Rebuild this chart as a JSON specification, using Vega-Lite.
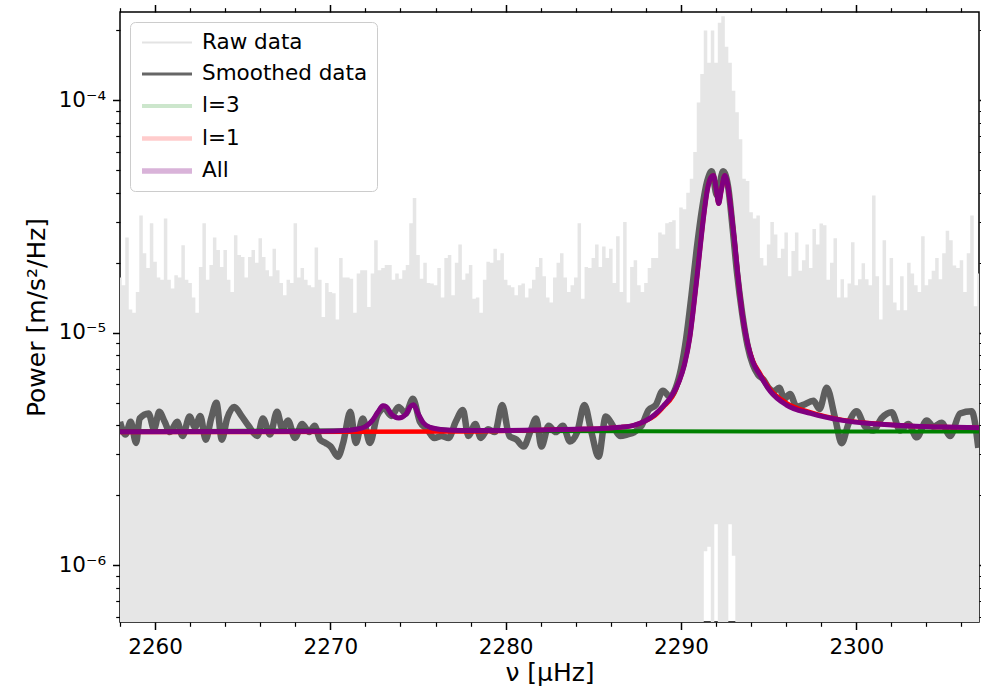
{
"$schema":"https://vega.github.io/schema/vega-lite/v6.json",
"width":859,"height":610,
"autosize":"none",
"padding":{"left":120,"top":12,"right":2,"bottom":69},
"background":"white",
"config":{
"view":{"stroke":"black","strokeWidth":1.5},
"font":"DejaVu Sans",
"axis":{"grid":false,"domain":false,"tickColor":"black","tickWidth":1.5,"labelColor":"black","labelFont":"DejaVu Sans","labelFontSize":21.5,"labelPadding":7,"titleFont":"DejaVu Sans","titleFontSize":25,"titleFontWeight":"normal","titleColor":"black"}
},
"datasets":{
"raw":[
{"f":2258.0,"hi":1.73e-5,"lo":1e-8},{"f":2258.2,"hi":1.6e-5,"lo":1e-8},{"f":2258.4,"hi":2.57e-5,"lo":1e-8},{"f":2258.6,"hi":1.26e-5,"lo":1e-8},{"f":2258.8,"hi":1.22e-5,"lo":1e-8},
{"f":2259.0,"hi":1.5e-5,"lo":1e-8},{"f":2259.2,"hi":3.2e-5,"lo":1e-8},{"f":2259.4,"hi":2.2e-5,"lo":1e-8},{"f":2259.6,"hi":1.9e-5,"lo":1e-8},{"f":2259.8,"hi":2.96e-5,"lo":1e-8},
{"f":2260.0,"hi":2.02e-5,"lo":1e-8},{"f":2260.2,"hi":1.73e-5,"lo":1e-8},{"f":2260.4,"hi":1.69e-5,"lo":1e-8},{"f":2260.6,"hi":3.1e-5,"lo":1e-8},{"f":2260.8,"hi":1.69e-5,"lo":1e-8},
{"f":2261.0,"hi":1.55e-5,"lo":1e-8},{"f":2261.2,"hi":1.77e-5,"lo":1e-8},{"f":2261.4,"hi":1.73e-5,"lo":1e-8},{"f":2261.6,"hi":2.38e-5,"lo":1e-8},{"f":2261.8,"hi":1.69e-5,"lo":1e-8},
{"f":2262.0,"hi":1.64e-5,"lo":1e-8},{"f":2262.2,"hi":1.42e-5,"lo":1e-8},{"f":2262.4,"hi":1.22e-5,"lo":1e-8},{"f":2262.6,"hi":1.92e-5,"lo":1e-8},{"f":2262.8,"hi":2.96e-5,"lo":1e-8},
{"f":2263.0,"hi":1.69e-5,"lo":1e-8},{"f":2263.2,"hi":1.96e-5,"lo":1e-8},{"f":2263.4,"hi":2.57e-5,"lo":1e-8},{"f":2263.6,"hi":2.27e-5,"lo":1e-8},{"f":2263.8,"hi":1.92e-5,"lo":1e-8},
{"f":2264.0,"hi":2.27e-5,"lo":1e-8},{"f":2264.2,"hi":1.69e-5,"lo":1e-8},{"f":2264.4,"hi":1.5e-5,"lo":1e-8},{"f":2264.6,"hi":2.63e-5,"lo":1e-8},{"f":2264.8,"hi":2.16e-5,"lo":1e-8},
{"f":2265.0,"hi":2.12e-5,"lo":1e-8},{"f":2265.2,"hi":1.73e-5,"lo":1e-8},{"f":2265.4,"hi":2.12e-5,"lo":1e-8},{"f":2265.6,"hi":2.27e-5,"lo":1e-8},{"f":2265.8,"hi":2.0e-5,"lo":1e-8},
{"f":2266.0,"hi":2.55e-5,"lo":1e-8},{"f":2266.2,"hi":2.12e-5,"lo":1e-8},{"f":2266.4,"hi":1.86e-5,"lo":1e-8},{"f":2266.6,"hi":1.75e-5,"lo":1e-8},{"f":2266.8,"hi":2.3e-5,"lo":1e-8},
{"f":2267.0,"hi":1.86e-5,"lo":1e-8},{"f":2267.2,"hi":1.64e-5,"lo":1e-8},{"f":2267.4,"hi":1.45e-5,"lo":1e-8},{"f":2267.6,"hi":1.69e-5,"lo":1e-8},{"f":2267.8,"hi":1.64e-5,"lo":1e-8},
{"f":2268.0,"hi":2.96e-5,"lo":1e-8},{"f":2268.2,"hi":1.73e-5,"lo":1e-8},{"f":2268.4,"hi":1.9e-5,"lo":1e-8},{"f":2268.6,"hi":1.69e-5,"lo":1e-8},{"f":2268.8,"hi":1.6e-5,"lo":1e-8},
{"f":2269.0,"hi":1.57e-5,"lo":1e-8},{"f":2269.2,"hi":2.33e-5,"lo":1e-8},{"f":2269.4,"hi":1.69e-5,"lo":1e-8},{"f":2269.6,"hi":1.17e-5,"lo":1e-8},{"f":2269.8,"hi":1.64e-5,"lo":1e-8},
{"f":2270.0,"hi":1.5e-5,"lo":1e-8},{"f":2270.2,"hi":1.48e-5,"lo":1e-8},{"f":2270.4,"hi":1.14e-5,"lo":1e-8},{"f":2270.6,"hi":2.1e-5,"lo":1e-8},{"f":2270.8,"hi":1.73e-5,"lo":1e-8},
{"f":2271.0,"hi":1.73e-5,"lo":1e-8},{"f":2271.2,"hi":1.71e-5,"lo":1e-8},{"f":2271.4,"hi":1.22e-5,"lo":1e-8},{"f":2271.6,"hi":1.8e-5,"lo":1e-8},{"f":2271.8,"hi":1.86e-5,"lo":1e-8},
{"f":2272.0,"hi":1.86e-5,"lo":1e-8},{"f":2272.2,"hi":1.29e-5,"lo":1e-8},{"f":2272.4,"hi":1.8e-5,"lo":1e-8},{"f":2272.6,"hi":2.5e-5,"lo":1e-8},{"f":2272.8,"hi":1.86e-5,"lo":1e-8},
{"f":2273.0,"hi":1.9e-5,"lo":1e-8},{"f":2273.2,"hi":1.96e-5,"lo":1e-8},{"f":2273.4,"hi":1.96e-5,"lo":1e-8},{"f":2273.6,"hi":1.69e-5,"lo":1e-8},{"f":2273.8,"hi":1.8e-5,"lo":1e-8},
{"f":2274.0,"hi":1.71e-5,"lo":1e-8},{"f":2274.2,"hi":1.86e-5,"lo":1e-8},{"f":2274.4,"hi":1.96e-5,"lo":1e-8},{"f":2274.6,"hi":2.96e-5,"lo":1e-8},{"f":2274.8,"hi":3.8e-5,"lo":1e-8},
{"f":2275.0,"hi":2.16e-5,"lo":1e-8},{"f":2275.2,"hi":1.71e-5,"lo":1e-8},{"f":2275.4,"hi":2.0e-5,"lo":1e-8},{"f":2275.6,"hi":1.64e-5,"lo":1e-8},{"f":2275.8,"hi":1.63e-5,"lo":1e-8},
{"f":2276.0,"hi":1.6e-5,"lo":1e-8},{"f":2276.2,"hi":1.9e-5,"lo":1e-8},{"f":2276.4,"hi":1.42e-5,"lo":1e-8},{"f":2276.6,"hi":2.1e-5,"lo":1e-8},{"f":2276.8,"hi":2.16e-5,"lo":1e-8},
{"f":2277.0,"hi":1.45e-5,"lo":1e-8},{"f":2277.2,"hi":2.0e-5,"lo":1e-8},{"f":2277.4,"hi":2.4e-5,"lo":1e-8},{"f":2277.6,"hi":1.69e-5,"lo":1e-8},{"f":2277.8,"hi":1.8e-5,"lo":1e-8},
{"f":2278.0,"hi":1.96e-5,"lo":1e-8},{"f":2278.2,"hi":1.4e-5,"lo":1e-8},{"f":2278.4,"hi":1.42e-5,"lo":1e-8},{"f":2278.6,"hi":1.22e-5,"lo":1e-8},{"f":2278.8,"hi":1.69e-5,"lo":1e-8},
{"f":2279.0,"hi":2.02e-5,"lo":1e-8},{"f":2279.2,"hi":2.0e-5,"lo":1e-8},{"f":2279.4,"hi":2.3e-5,"lo":1e-8},{"f":2279.6,"hi":2.05e-5,"lo":1e-8},{"f":2279.8,"hi":2.2e-5,"lo":1e-8},
{"f":2280.0,"hi":1.69e-5,"lo":1e-8},{"f":2280.2,"hi":1.6e-5,"lo":1e-8},{"f":2280.4,"hi":1.57e-5,"lo":1e-8},{"f":2280.6,"hi":1.45e-5,"lo":1e-8},{"f":2280.8,"hi":1.6e-5,"lo":1e-8},
{"f":2281.0,"hi":1.63e-5,"lo":1e-8},{"f":2281.2,"hi":1.42e-5,"lo":1e-8},{"f":2281.4,"hi":1.55e-5,"lo":1e-8},{"f":2281.6,"hi":1.69e-5,"lo":1e-8},{"f":2281.8,"hi":1.92e-5,"lo":1e-8},
{"f":2282.0,"hi":2.1e-5,"lo":1e-8},{"f":2282.2,"hi":1.75e-5,"lo":1e-8},{"f":2282.4,"hi":1.42e-5,"lo":1e-8},{"f":2282.6,"hi":1.35e-5,"lo":1e-8},{"f":2282.8,"hi":1.73e-5,"lo":1e-8},
{"f":2283.0,"hi":2.0e-5,"lo":1e-8},{"f":2283.2,"hi":2.2e-5,"lo":1e-8},{"f":2283.4,"hi":1.73e-5,"lo":1e-8},{"f":2283.6,"hi":1.5e-5,"lo":1e-8},{"f":2283.8,"hi":1.6e-5,"lo":1e-8},
{"f":2284.0,"hi":1.73e-5,"lo":1e-8},{"f":2284.2,"hi":2.96e-5,"lo":1e-8},{"f":2284.4,"hi":1.4e-5,"lo":1e-8},{"f":2284.6,"hi":1.92e-5,"lo":1e-8},{"f":2284.8,"hi":1.9e-5,"lo":1e-8},
{"f":2285.0,"hi":2.1e-5,"lo":1e-8},{"f":2285.2,"hi":2.4e-5,"lo":1e-8},{"f":2285.4,"hi":1.92e-5,"lo":1e-8},{"f":2285.6,"hi":2.35e-5,"lo":1e-8},{"f":2285.8,"hi":2.1e-5,"lo":1e-8},
{"f":2286.0,"hi":2.3e-5,"lo":1e-8},{"f":2286.2,"hi":1.64e-5,"lo":1e-8},{"f":2286.4,"hi":2.6e-5,"lo":1e-8},{"f":2286.6,"hi":1.5e-5,"lo":1e-8},{"f":2286.8,"hi":3.0e-5,"lo":1e-8},
{"f":2287.0,"hi":1.35e-5,"lo":1e-8},{"f":2287.2,"hi":1.92e-5,"lo":1e-8},{"f":2287.4,"hi":2.05e-5,"lo":1e-8},{"f":2287.6,"hi":1.6e-5,"lo":1e-8},{"f":2287.8,"hi":1.5e-5,"lo":1e-8},
{"f":2288.0,"hi":1.64e-5,"lo":1e-8},{"f":2288.2,"hi":1.9e-5,"lo":1e-8},{"f":2288.4,"hi":2.1e-5,"lo":1e-8},{"f":2288.6,"hi":2.1e-5,"lo":1e-8},{"f":2288.8,"hi":2.7e-5,"lo":1e-8},
{"f":2289.0,"hi":2.65e-5,"lo":1e-8},{"f":2289.2,"hi":2.96e-5,"lo":1e-8},{"f":2289.4,"hi":3.0e-5,"lo":1e-8},{"f":2289.6,"hi":3.05e-5,"lo":1e-8},{"f":2289.8,"hi":2.3e-5,"lo":1e-8},
{"f":2290.0,"hi":3.46e-5,"lo":1e-8},{"f":2290.2,"hi":3.4e-5,"lo":1e-8},{"f":2290.4,"hi":4.0e-5,"lo":1e-8},{"f":2290.6,"hi":4.6e-5,"lo":1e-8},{"f":2290.8,"hi":6.0e-5,"lo":1e-8},
{"f":2291.0,"hi":9.8e-5,"lo":1e-8},{"f":2291.2,"hi":1.3e-4,"lo":1e-8},{"f":2291.4,"hi":2.0e-4,"lo":1.15e-6},{"f":2291.6,"hi":1.45e-4,"lo":1.2e-6},{"f":2291.8,"hi":2.0e-4,"lo":1e-8},
{"f":2292.0,"hi":1.45e-4,"lo":1.5e-6},{"f":2292.2,"hi":2.16e-4,"lo":1e-8},{"f":2292.4,"hi":2.3e-4,"lo":1e-8},{"f":2292.6,"hi":1.7e-4,"lo":1e-8},{"f":2292.8,"hi":1.45e-4,"lo":1.5e-6},
{"f":2293.0,"hi":1.1e-4,"lo":1.1e-6},{"f":2293.2,"hi":8.9e-5,"lo":1e-8},{"f":2293.4,"hi":6.8e-5,"lo":1e-8},{"f":2293.6,"hi":4.6e-5,"lo":1e-8},{"f":2293.8,"hi":4.5e-5,"lo":1e-8},
{"f":2294.0,"hi":3.3e-5,"lo":1e-8},{"f":2294.2,"hi":3.1e-5,"lo":1e-8},{"f":2294.4,"hi":3.2e-5,"lo":1e-8},{"f":2294.6,"hi":2.1e-5,"lo":1e-8},{"f":2294.8,"hi":1.95e-5,"lo":1e-8},
{"f":2295.0,"hi":2.4e-5,"lo":1e-8},{"f":2295.2,"hi":3.0e-5,"lo":1e-8},{"f":2295.4,"hi":2.65e-5,"lo":1e-8},{"f":2295.6,"hi":2.1e-5,"lo":1e-8},{"f":2295.8,"hi":2.3e-5,"lo":1e-8},
{"f":2296.0,"hi":2.7e-5,"lo":1e-8},{"f":2296.2,"hi":1.75e-5,"lo":1e-8},{"f":2296.4,"hi":2.25e-5,"lo":1e-8},{"f":2296.6,"hi":2.7e-5,"lo":1e-8},{"f":2296.8,"hi":1.85e-5,"lo":1e-8},
{"f":2297.0,"hi":2.05e-5,"lo":1e-8},{"f":2297.2,"hi":2.4e-5,"lo":1e-8},{"f":2297.4,"hi":1.9e-5,"lo":1e-8},{"f":2297.6,"hi":2.8e-5,"lo":1e-8},{"f":2297.8,"hi":2.4e-5,"lo":1e-8},
{"f":2298.0,"hi":2.95e-5,"lo":1e-8},{"f":2298.2,"hi":2.9e-5,"lo":1e-8},{"f":2298.4,"hi":1.69e-5,"lo":1e-8},{"f":2298.6,"hi":2.0e-5,"lo":1e-8},{"f":2298.8,"hi":2.55e-5,"lo":1e-8},
{"f":2299.0,"hi":1.42e-5,"lo":1e-8},{"f":2299.2,"hi":1.7e-5,"lo":1e-8},{"f":2299.4,"hi":1.42e-5,"lo":1e-8},{"f":2299.6,"hi":1.63e-5,"lo":1e-8},{"f":2299.8,"hi":2.45e-5,"lo":1e-8},
{"f":2300.0,"hi":1.6e-5,"lo":1e-8},{"f":2300.2,"hi":1.7e-5,"lo":1e-8},{"f":2300.4,"hi":1.99e-5,"lo":1e-8},{"f":2300.6,"hi":1.7e-5,"lo":1e-8},{"f":2300.8,"hi":1.6e-5,"lo":1e-8},
{"f":2301.0,"hi":3.9e-5,"lo":1e-8},{"f":2301.2,"hi":1.75e-5,"lo":1e-8},{"f":2301.4,"hi":1.14e-5,"lo":1e-8},{"f":2301.6,"hi":2.5e-5,"lo":1e-8},{"f":2301.8,"hi":1.6e-5,"lo":1e-8},
{"f":2302.0,"hi":2.1e-5,"lo":1e-8},{"f":2302.2,"hi":1.35e-5,"lo":1e-8},{"f":2302.4,"hi":1.25e-5,"lo":1e-8},{"f":2302.6,"hi":1.75e-5,"lo":1e-8},{"f":2302.8,"hi":1.25e-5,"lo":1e-8},
{"f":2303.0,"hi":2.0e-5,"lo":1e-8},{"f":2303.2,"hi":1.8e-5,"lo":1e-8},{"f":2303.4,"hi":1.6e-5,"lo":1e-8},{"f":2303.6,"hi":1.5e-5,"lo":1e-8},{"f":2303.8,"hi":2.6e-5,"lo":1e-8},
{"f":2304.0,"hi":1.6e-5,"lo":1e-8},{"f":2304.2,"hi":1.7e-5,"lo":1e-8},{"f":2304.4,"hi":1.85e-5,"lo":1e-8},{"f":2304.6,"hi":2.1e-5,"lo":1e-8},{"f":2304.8,"hi":1.7e-5,"lo":1e-8},
{"f":2305.0,"hi":2.2e-5,"lo":1e-8},{"f":2305.2,"hi":2.75e-5,"lo":1e-8},{"f":2305.4,"hi":2.5e-5,"lo":1e-8},{"f":2305.6,"hi":1.95e-5,"lo":1e-8},{"f":2305.8,"hi":1.9e-5,"lo":1e-8},
{"f":2306.0,"hi":2.05e-5,"lo":1e-8},{"f":2306.2,"hi":1.5e-5,"lo":1e-8},{"f":2306.4,"hi":2.2e-5,"lo":1e-8},{"f":2306.6,"hi":3.2e-5,"lo":1e-8},{"f":2306.8,"hi":1.3e-5,"lo":1e-8},
{"f":2307.0,"hi":1.8e-5,"lo":1e-8}
],
"smooth":[
{"f":2258.0,"p":4.14e-6},{"f":2258.31,"p":3.65e-6},{"f":2258.61,"p":4.14e-6},{"f":2258.92,"p":3.36e-6},{"f":2259.12,"p":4.28e-6},{"f":2259.63,"p":4.5e-6},{"f":2259.94,"p":3.85e-6},{"f":2260.24,"p":4.57e-6},{"f":2260.55,"p":4.14e-6},{"f":2260.85,"p":3.74e-6},
{"f":2261.26,"p":4.14e-6},{"f":2261.57,"p":3.6e-6},{"f":2261.97,"p":4.36e-6},{"f":2262.28,"p":3.92e-6},{"f":2262.58,"p":4.39e-6},{"f":2262.89,"p":3.47e-6},{"f":2263.2,"p":4.28e-6},{"f":2263.5,"p":5.0e-6},{"f":2263.81,"p":3.47e-6},{"f":2264.11,"p":4.28e-6},
{"f":2264.52,"p":4.8e-6},{"f":2264.93,"p":4.39e-6},{"f":2265.33,"p":3.98e-6},{"f":2265.84,"p":3.6e-6},{"f":2266.15,"p":4.28e-6},{"f":2266.56,"p":3.65e-6},{"f":2266.96,"p":4.57e-6},{"f":2267.27,"p":3.85e-6},{"f":2267.58,"p":4.2e-6},{"f":2267.98,"p":3.53e-6},
{"f":2268.39,"p":4.05e-6},{"f":2268.8,"p":3.74e-6},{"f":2269.1,"p":3.98e-6},{"f":2269.41,"p":3.47e-6},{"f":2269.72,"p":3.36e-6},{"f":2270.02,"p":3.24e-6},{"f":2270.43,"p":2.93e-6},{"f":2270.73,"p":3.36e-6},{"f":2271.14,"p":4.57e-6},{"f":2271.45,"p":3.36e-6},
{"f":2271.85,"p":4.28e-6},{"f":2272.26,"p":3.36e-6},{"f":2272.67,"p":4.39e-6},{"f":2273.08,"p":4.72e-6},{"f":2273.48,"p":4.39e-6},{"f":2273.89,"p":4.8e-6},{"f":2274.3,"p":4.5e-6},{"f":2274.71,"p":5.2e-6},{"f":2275.11,"p":4.14e-6},{"f":2275.52,"p":3.85e-6},
{"f":2275.93,"p":3.53e-6},{"f":2276.34,"p":3.6e-6},{"f":2276.74,"p":3.53e-6},{"f":2277.15,"p":4.14e-6},{"f":2277.56,"p":4.65e-6},{"f":2277.87,"p":3.6e-6},{"f":2278.27,"p":4.05e-6},{"f":2278.58,"p":3.53e-6},{"f":2278.99,"p":3.85e-6},{"f":2279.39,"p":3.74e-6},
{"f":2279.8,"p":4.89e-6},{"f":2280.21,"p":3.6e-6},{"f":2280.62,"p":3.47e-6},{"f":2281.02,"p":3.24e-6},{"f":2281.43,"p":3.8e-6},{"f":2281.74,"p":4.28e-6},{"f":2282.04,"p":3.24e-6},{"f":2282.45,"p":3.98e-6},{"f":2282.86,"p":3.74e-6},{"f":2283.26,"p":3.98e-6},
{"f":2283.67,"p":3.41e-6},{"f":2284.08,"p":3.74e-6},{"f":2284.49,"p":4.89e-6},{"f":2284.89,"p":3.74e-6},{"f":2285.3,"p":2.93e-6},{"f":2285.71,"p":4.36e-6},{"f":2286.12,"p":3.98e-6},{"f":2286.52,"p":3.6e-6},{"f":2286.93,"p":3.65e-6},{"f":2287.34,"p":3.74e-6},
{"f":2287.75,"p":3.98e-6},{"f":2288.15,"p":4.65e-6},{"f":2288.56,"p":4.89e-6},{"f":2288.97,"p":5.64e-6},{"f":2289.38,"p":5.3e-6},{"f":2289.7,"p":5.8e-6},{"f":2290.0,"p":7.0e-6},{"f":2290.3,"p":9.5e-6},{"f":2290.6,"p":1.45e-5},{"f":2290.9,"p":2.3e-5},
{"f":2291.2,"p":3.4e-5},{"f":2291.5,"p":4.5e-5},{"f":2291.75,"p":4.95e-5},{"f":2292.05,"p":3.9e-5},{"f":2292.4,"p":4.95e-5},{"f":2292.7,"p":4.2e-5},{"f":2292.95,"p":2.8e-5},{"f":2293.2,"p":1.8e-5},{"f":2293.5,"p":1.2e-5},{"f":2293.8,"p":8.8e-6},
{"f":2294.1,"p":7.3e-6},{"f":2294.4,"p":6.6e-6},{"f":2294.7,"p":6.3e-6},{"f":2295.0,"p":5.8e-6},{"f":2295.3,"p":5.6e-6},{"f":2295.6,"p":5.8e-6},{"f":2295.9,"p":5.2e-6},{"f":2296.22,"p":5.45e-6},{"f":2296.6,"p":4.8e-6},{"f":2296.98,"p":4.9e-6},
{"f":2297.55,"p":5.1e-6},{"f":2297.9,"p":4.7e-6},{"f":2298.31,"p":5.8e-6},{"f":2298.79,"p":4.3e-6},{"f":2299.17,"p":3.35e-6},{"f":2299.55,"p":4.05e-6},{"f":2300.02,"p":4.6e-6},{"f":2300.5,"p":3.95e-6},{"f":2300.97,"p":3.8e-6},{"f":2301.45,"p":4.3e-6},
{"f":2302.02,"p":4.55e-6},{"f":2302.5,"p":3.8e-6},{"f":2302.97,"p":4.05e-6},{"f":2303.45,"p":3.55e-6},{"f":2304.02,"p":4.2e-6},{"f":2304.4,"p":3.95e-6},{"f":2304.87,"p":4.1e-6},{"f":2305.35,"p":3.6e-6},{"f":2305.92,"p":4.5e-6},{"f":2306.58,"p":4.6e-6},
{"f":2306.96,"p":3.2e-6}
],
"models":[
{"s":"l=3","f":2258,"p":3.77e-6},{"s":"l=3","f":2270.5,"p":3.8e-6},{"s":"l=3","f":2271.5,"p":3.86e-6},{"s":"l=3","f":2272.0,"p":3.96e-6},{"s":"l=3","f":2272.4,"p":4.2e-6},{"s":"l=3","f":2272.7,"p":4.55e-6},{"s":"l=3","f":2273.0,"p":4.85e-6},{"s":"l=3","f":2273.2,"p":4.8e-6},{"s":"l=3","f":2273.5,"p":4.45e-6},{"s":"l=3","f":2273.9,"p":4.3e-6},{"s":"l=3","f":2274.3,"p":4.45e-6},{"s":"l=3","f":2274.55,"p":4.8e-6},{"s":"l=3","f":2274.75,"p":4.9e-6},{"s":"l=3","f":2275.0,"p":4.5e-6},{"s":"l=3","f":2275.3,"p":4.1e-6},{"s":"l=3","f":2275.7,"p":3.92e-6},{"s":"l=3","f":2276.3,"p":3.84e-6},{"s":"l=3","f":2277.5,"p":3.8e-6},{"s":"l=3","f":2280,"p":3.78e-6},{"s":"l=3","f":2307,"p":3.76e-6},
{"s":"l=1","f":2258,"p":3.74e-6},{"s":"l=1","f":2277,"p":3.76e-6},{"s":"l=1","f":2282,"p":3.82e-6},{"s":"l=1","f":2284,"p":3.85e-6},{"s":"l=1","f":2285.5,"p":3.88e-6},{"s":"l=1","f":2286.5,"p":3.92e-6},{"s":"l=1","f":2287.3,"p":4.0e-6},{"s":"l=1","f":2287.9,"p":4.15e-6},{"s":"l=1","f":2288.5,"p":4.4e-6},{"s":"l=1","f":2289.0,"p":4.8e-6},{"s":"l=1","f":2289.5,"p":5.3e-6},{"s":"l=1","f":2289.9,"p":6.2e-6},{"s":"l=1","f":2290.2,"p":7.3e-6},{"s":"l=1","f":2290.5,"p":9.5e-6},{"s":"l=1","f":2290.7,"p":1.25e-5},{"s":"l=1","f":2290.9,"p":1.7e-5},{"s":"l=1","f":2291.1,"p":2.35e-5},{"s":"l=1","f":2291.3,"p":3.2e-5},{"s":"l=1","f":2291.5,"p":4.1e-5},{"s":"l=1","f":2291.7,"p":4.65e-5},{"s":"l=1","f":2291.85,"p":4.75e-5},{"s":"l=1","f":2292.0,"p":4.2e-5},{"s":"l=1","f":2292.15,"p":3.6e-5},{"s":"l=1","f":2292.3,"p":4.1e-5},{"s":"l=1","f":2292.5,"p":4.75e-5},{"s":"l=1","f":2292.65,"p":4.4e-5},{"s":"l=1","f":2292.85,"p":3.4e-5},{"s":"l=1","f":2293.05,"p":2.5e-5},{"s":"l=1","f":2293.25,"p":1.75e-5},{"s":"l=1","f":2293.5,"p":1.2e-5},{"s":"l=1","f":2293.8,"p":9.0e-6},{"s":"l=1","f":2294.1,"p":7.6e-6},{"s":"l=1","f":2294.5,"p":6.7e-6},{"s":"l=1","f":2295.1,"p":5.7e-6},{"s":"l=1","f":2296.0,"p":5.0e-6},{"s":"l=1","f":2297.4,"p":4.55e-6},{"s":"l=1","f":2299.2,"p":4.22e-6},{"s":"l=1","f":2301.2,"p":4.06e-6},{"s":"l=1","f":2303.1,"p":3.97e-6},{"s":"l=1","f":2305.0,"p":3.93e-6},{"s":"l=1","f":2307.0,"p":3.9e-6},
{"s":"All","f":2258,"p":3.75e-6},{"s":"All","f":2265,"p":3.76e-6},{"s":"All","f":2269,"p":3.77e-6},{"s":"All","f":2270.5,"p":3.79e-6},{"s":"All","f":2271.5,"p":3.85e-6},{"s":"All","f":2272.0,"p":3.95e-6},{"s":"All","f":2272.4,"p":4.2e-6},{"s":"All","f":2272.7,"p":4.55e-6},{"s":"All","f":2273.0,"p":4.85e-6},{"s":"All","f":2273.2,"p":4.8e-6},{"s":"All","f":2273.5,"p":4.45e-6},{"s":"All","f":2273.9,"p":4.3e-6},{"s":"All","f":2274.3,"p":4.45e-6},{"s":"All","f":2274.55,"p":4.8e-6},{"s":"All","f":2274.75,"p":4.9e-6},{"s":"All","f":2275.0,"p":4.5e-6},{"s":"All","f":2275.3,"p":4.1e-6},{"s":"All","f":2275.7,"p":3.92e-6},{"s":"All","f":2276.3,"p":3.84e-6},{"s":"All","f":2277.5,"p":3.8e-6},{"s":"All","f":2280,"p":3.8e-6},{"s":"All","f":2282,"p":3.82e-6},{"s":"All","f":2284,"p":3.85e-6},{"s":"All","f":2285.5,"p":3.88e-6},{"s":"All","f":2286.5,"p":3.92e-6},{"s":"All","f":2287.3,"p":4.0e-6},{"s":"All","f":2287.9,"p":4.15e-6},{"s":"All","f":2288.5,"p":4.45e-6},{"s":"All","f":2289.0,"p":4.85e-6},{"s":"All","f":2289.5,"p":5.4e-6},{"s":"All","f":2289.9,"p":6.2e-6},{"s":"All","f":2290.2,"p":7.3e-6},{"s":"All","f":2290.5,"p":9.5e-6},{"s":"All","f":2290.7,"p":1.25e-5},{"s":"All","f":2290.9,"p":1.7e-5},{"s":"All","f":2291.1,"p":2.35e-5},{"s":"All","f":2291.3,"p":3.2e-5},{"s":"All","f":2291.5,"p":4.1e-5},{"s":"All","f":2291.7,"p":4.65e-5},{"s":"All","f":2291.85,"p":4.75e-5},{"s":"All","f":2292.0,"p":4.2e-5},{"s":"All","f":2292.15,"p":3.6e-5},{"s":"All","f":2292.3,"p":4.1e-5},{"s":"All","f":2292.5,"p":4.75e-5},{"s":"All","f":2292.65,"p":4.4e-5},{"s":"All","f":2292.85,"p":3.4e-5},{"s":"All","f":2293.05,"p":2.5e-5},{"s":"All","f":2293.25,"p":1.75e-5},{"s":"All","f":2293.5,"p":1.2e-5},{"s":"All","f":2293.8,"p":9.0e-6},{"s":"All","f":2294.1,"p":7.5e-6},{"s":"All","f":2294.5,"p":6.6e-6},{"s":"All","f":2295.1,"p":5.6e-6},{"s":"All","f":2296.0,"p":4.9e-6},{"s":"All","f":2297.4,"p":4.5e-6},{"s":"All","f":2299.2,"p":4.2e-6},{"s":"All","f":2301.2,"p":4.05e-6},{"s":"All","f":2303.1,"p":3.97e-6},{"s":"All","f":2305.0,"p":3.93e-6},{"s":"All","f":2307.0,"p":3.9e-6}
],
"legend":[{"s":"Raw data"},{"s":"Smoothed data"},{"s":"l=3"},{"s":"l=1"},{"s":"All"}]
},
"layer":[
{"data":{"name":"raw"},
"mark":{"type":"area","interpolate":"step","color":"#e6e6e6","clip":true},
"encoding":{
"x":{"field":"f","type":"quantitative","scale":{"domain":[2258,2307],"nice":false,"zero":false},
"axis":{"orient":"bottom","values":[2260,2270,2280,2290,2300],"format":"d","tickSize":7.5,"title":"ν [μHz]","titlePadding":2}},
"y":{"field":"hi","type":"quantitative","scale":{"type":"log","domain":[5.7e-7,2.4e-4],"nice":false},
"axis":{"orient":"left","values":[1e-6,1e-5,1e-4],"tickSize":7.5,"labelExpr":"datum.value < 5e-6 ? '10⁻⁶' : datum.value < 5e-5 ? '10⁻⁵' : '10⁻⁴'","title":"Power [m/s²/Hz]","titlePadding":9}},
"y2":{"field":"lo"}}},
{"data":{"name":"smooth"},
"mark":{"type":"line","interpolate":"monotone","color":"#5e5e5e","strokeWidth":6.5,"clip":true},
"encoding":{
"x":{"field":"f","type":"quantitative","axis":{"orient":"bottom","values":[2258,2262,2264,2266,2268,2272,2274,2276,2278,2282,2284,2286,2288,2292,2294,2296,2298,2302,2304,2306],"tickSize":4.3,"tickWidth":1.2,"labels":false,"title":null}},
"y":{"field":"p","type":"quantitative","axis":{"orient":"left","values":[6e-7,7e-7,8e-7,9e-7,2e-6,3e-6,4e-6,5e-6,6e-6,7e-6,8e-6,9e-6,2e-5,3e-5,4e-5,5e-5,6e-5,7e-5,8e-5,9e-5,2e-4],"tickSize":4.3,"tickWidth":1.2,"labels":false,"title":null}}}},
{"data":{"name":"models"},
"transform":[{"filter":"datum.s == 'l=3'"}],
"mark":{"type":"line","interpolate":"monotone","color":"#008000","strokeWidth":4,"clip":true},
"encoding":{
"x":{"field":"f","type":"quantitative","axis":{"orient":"top","values":[2260,2270,2280,2290,2300],"tickSize":7.5,"labels":false,"title":null}},
"y":{"field":"p","type":"quantitative","axis":{"orient":"right","values":[1e-6,1e-5,1e-4],"tickSize":7.5,"labels":false,"title":null}}}},
{"data":{"name":"models"},
"transform":[{"filter":"datum.s == 'l=1'"}],
"mark":{"type":"line","interpolate":"monotone","color":"#ff0000","strokeWidth":4.5,"clip":true},
"encoding":{
"x":{"field":"f","type":"quantitative","axis":{"orient":"top","values":[2258,2262,2264,2266,2268,2272,2274,2276,2278,2282,2284,2286,2288,2292,2294,2296,2298,2302,2304,2306],"tickSize":4.3,"tickWidth":1.2,"labels":false,"title":null}},
"y":{"field":"p","type":"quantitative","axis":{"orient":"right","values":[6e-7,7e-7,8e-7,9e-7,2e-6,3e-6,4e-6,5e-6,6e-6,7e-6,8e-6,9e-6,2e-5,3e-5,4e-5,5e-5,6e-5,7e-5,8e-5,9e-5,2e-4],"tickSize":4.3,"tickWidth":1.2,"labels":false,"title":null}}}},
{"data":{"name":"models"},
"transform":[{"filter":"datum.s == 'All'"}],
"mark":{"type":"line","interpolate":"monotone","color":"#800080","strokeWidth":5,"clip":true},
"encoding":{
"x":{"field":"f","type":"quantitative","axis":null},
"y":{"field":"p","type":"quantitative","axis":null}}},
{"data":{"name":"legend"},
"mark":{"type":"point","filled":false,"opacity":0},
"encoding":{
"color":{"field":"s","type":"nominal","scale":{"domain":["Raw data","Smoothed data","l=3","l=1","All"],"range":["#e3e3e3","#666666","#cce6cc","#ffcccc","#d9b3d9"]},
"legend":{"title":null,"orient":"top-left","offset":10,"symbolType":"M-1,0H4","symbolSize":400,"symbolOpacity":1,"labelFontSize":21.5,"labelFont":"DejaVu Sans","labelColor":"black","labelOffset":37,"rowPadding":9,"padding":9,"strokeColor":"#cccccc","cornerRadius":5,"fillColor":"rgba(255,255,255,0.8)","labelLimit":400}},
"strokeWidth":{"field":"s","type":"ordinal","scale":{"domain":["Raw data","Smoothed data","l=3","l=1","All"],"range":[2.2,5.5,2.2,2.2,2.2]},
"legend":{"title":null,"orient":"top-left","offset":10,"symbolType":"M-1,0H4","symbolSize":400,"symbolOpacity":1,"labelFontSize":21.5,"labelFont":"DejaVu Sans","labelColor":"black","labelOffset":37,"rowPadding":9,"padding":9,"strokeColor":"#cccccc","cornerRadius":5,"fillColor":"rgba(255,255,255,0.8)","labelLimit":400}}}}
],
"resolve":{"axis":{"x":"independent","y":"independent"}}
}
